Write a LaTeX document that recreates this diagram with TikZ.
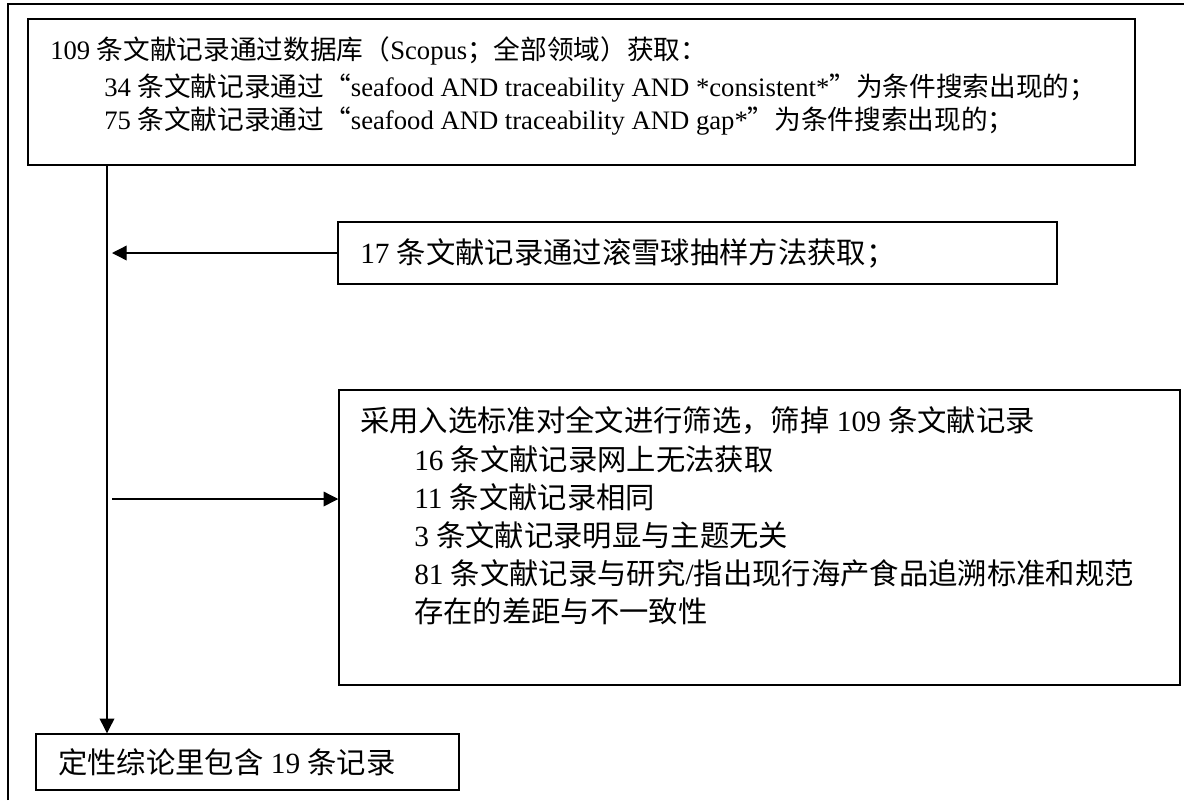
\documentclass[tikz,border=0pt]{standalone}
\usepackage{fontspec}
\setmainfont{Liberation Serif}
\newfontfamily\cjk{Noto Sans CJK SC}
\newcommand{\zh}[1]{{\cjk #1}}
\usetikzlibrary{arrows.meta,fit}
\begin{document}
\begin{tikzpicture}[x=0.75pt,y=-0.75pt,
 box/.style={draw, line width=1.1pt, inner sep=0pt},
 txt/.style={anchor=west, inner sep=0pt},
 t1/.style={txt, font=\fontsize{20}{24}\selectfont},
 t2/.style={txt, font=\fontsize{22}{26}\selectfont},
 link/.style={line width=1pt, -{Triangle[length=11pt,width=11pt]}}]
\useasboundingbox (0,0) rectangle (1184,800);
\draw[line width=1.5pt] (8,800) -- (8,4) -- (1184,4);
% box 1
\coordinate (b1a) at (28,19);
\coordinate (b1b) at (1135,165);
\node[box, fit=(b1a)(b1b)] (b1) {};
\node[t1] (l11) at (50,51) {109 \zh{条文献记录通过数据库（}Scopus\zh{；全部领域）获取：}};
\node[t1] (l12) at (104,88) {34 \zh{条文献记录通过“}seafood AND traceability AND *consistent*\zh{”为条件搜索出现的；}};
\node[t1] (l13) at (104,121) {75 \zh{条文献记录通过“}seafood AND traceability AND gap*\zh{”为条件搜索出现的；}};
% box 2
\coordinate (b2a) at (338,222);
\coordinate (b2b) at (1057,284);
\node[box, fit=(b2a)(b2b)] (b2) {};
\node[t2] (l21) at (360,253) {17 \zh{条文献记录通过滚雪球抽样方法获取；}};
% box 3
\coordinate (b3a) at (339,390);
\coordinate (b3b) at (1180,685);
\node[box, fit=(b3a)(b3b)] (b3) {};
\node[t2] (l31) at (360,421) {\zh{采用入选标准对全文进行筛选，筛掉} 109 \zh{条文献记录}};
\node[t2] (l32) at (414,459) {16 \zh{条文献记录网上无法获取}};
\node[t2] (l33) at (414,497) {11 \zh{条文献记录相同}};
\node[t2] (l34) at (414,535) {3 \zh{条文献记录明显与主题无关}};
\node[t2] (l35) at (414,573) {81 \zh{条文献记录与研究}/\zh{指出现行海产食品追溯标准和规范}};
\node[t2] (l36) at (414,611) {\zh{存在的差距与不一致性}};
% result box
\coordinate (b4a) at (36,734);
\coordinate (b4b) at (459,790);
\node[box, fit=(b4a)(b4b)] (res) {};
\node[t2] (l41) at (58,762) {\zh{定性综论里包含} 19 \zh{条记录}};
% connectors
\coordinate (vx) at (107,0);
\coordinate (a3) at (112,499);
\draw[link] (b1.south -| vx) -- (res.north -| vx);
\draw[link, shorten >=3.75pt] (b2.west) -- (b2.west -| vx);
\draw[link] (a3) -- (a3 -| b3.west);
\end{tikzpicture}
\end{document}
